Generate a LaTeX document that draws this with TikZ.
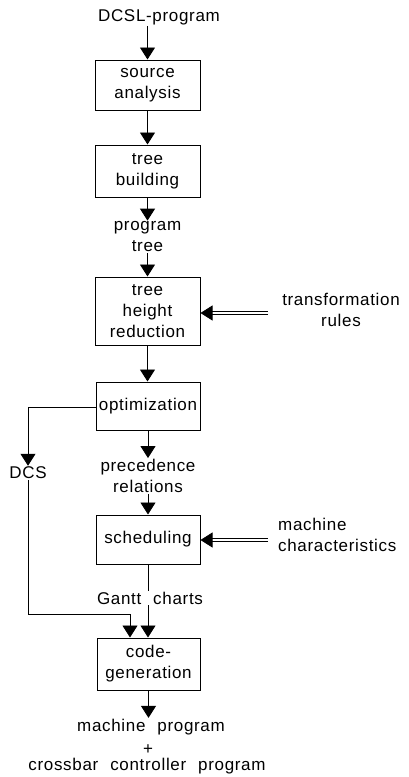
\documentclass[tikz,border=0pt]{standalone}
\usepackage{fontspec}
\setmainfont{Liberation Sans}[LetterSpace=4,WordSpace=2.2]
\usetikzlibrary{arrows.meta}
\begin{document}
\begin{tikzpicture}[x=1pt,y=-1pt,
  every node/.style={font=\fontsize{17}{21}\selectfont, align=center},
  procbox/.style={draw, line width=1pt, minimum width=105pt, inner sep=1pt},
  label text/.style={inner sep=1pt},
  arr/.style={line width=0.9pt, -{Triangle[width=15pt,length=12pt]}},
  plain/.style={line width=0.9pt},
  dblarr/.style={line width=0.8pt, double, double distance=2.2pt, -{Triangle[width=15pt,length=12pt]}}
]
\useasboundingbox (0,0) rectangle (408,777);

\node[label text] (dcsl) at (159,17) {DCSL-program};
\node[procbox, minimum height=50pt] (sa) at (147.5,85) {source\\analysis};
\node[procbox, minimum height=52pt] (tb) at (147.5,171) {tree\\building};
\node[label text] (pt) at (147.5,237) {program\\tree};
\node[procbox, minimum height=68pt] (thr) at (147.5,311) {tree\\height\\reduction};
\node[label text] (tr) at (341,310) {transformation\\rules};
\node[procbox, minimum height=48pt, minimum width=104pt] (opt) at (148,406) {optimization};
\node[label text] (dcs) at (28,473) {DCS};
\node[label text] (prec) at (148,476) {precedence\\relations};
\node[procbox, minimum height=49pt, minimum width=104pt] (sch) at (148,539.5) {scheduling};
\node[label text, align=left, anchor=west] (mc) at (277,535) {machine\\characteristics};
\node[procbox, minimum height=52pt, minimum width=103pt] (cg) at (148.5,664) {code-\\generation};
\node[label text] (mp) at (151,727) {machine program};
\node[label text] (plus) at (148,750) {+};
\node[label text] (cb) at (147,766) {crossbar controller program};

\coordinate (trE) at (268,313);
\coordinate (mcE) at (268,540);
\coordinate (c1) at (28,614);
\coordinate (c2) at (130,614);
\coordinate (o1) at (28,407);

% main flow
\draw[arr] (sa.north |- dcsl.south) -- (sa.north);
\draw[arr] (sa.south) -- (tb.north);
\draw[arr] (tb.south) -- (pt.north);
\draw[arr] (pt.south) -- (thr.north);
\draw[arr] (thr.south) -- (thr.south |- opt.north);
\draw[arr] (opt.south) -- (prec.north);
\draw[arr] (prec.south) -- (sch.north);
\draw[arr] (sch.south) -- (cg.north -| sch.south);
\node[label text, fill=white] (gantt) at (150,598) {Gantt charts};
\draw[arr] (cg.south) -- (cg.south |- mp.north);

% DCS branch
\draw[arr] (opt.west |- o1) -- (o1) -- (dcs.north);
\draw[arr] (dcs.south) -- (c1) -- (c2) -- (c2 |- cg.north);

% side inputs
\draw[dblarr] (trE) -- (trE -| thr.east);
\draw[dblarr] (mcE) -- (mcE -| sch.east);
\end{tikzpicture}
\end{document}
